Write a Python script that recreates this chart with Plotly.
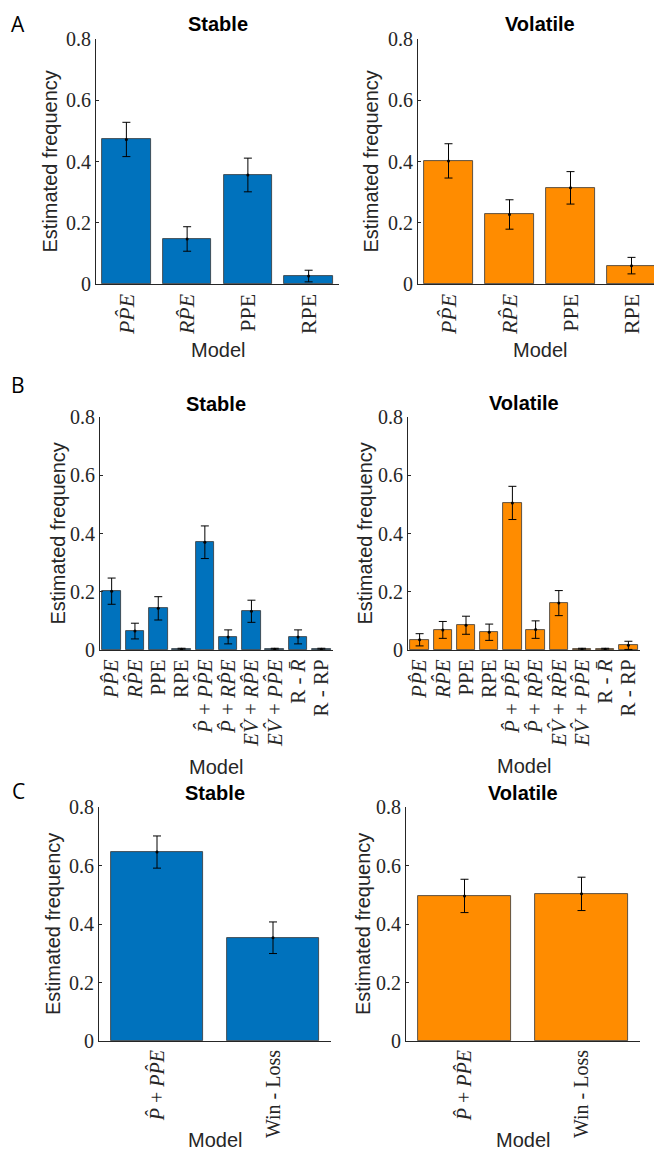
import plotly.graph_objects as go

# page is offset by the 8px body margin; pixel positions below are page pixels
OFF = 8
PW, PH = 662, 1152
W, H = PW - OFF, PH - OFF
BLUE = "#0072BD"
ORANGE = "#FF8C00"
AX = "#262626"
SERIF = "Liberation Serif, Times New Roman, serif"
SANS = "Liberation Sans, Arial, Helvetica, sans-serif"

# ---------------- data ----------------
labels_A = ["<i>PP\u0302E</i>", "<i>RP\u0302E</i>", "PPE", "RPE"]
stable_A = [0.472, 0.147, 0.356, 0.026]
stable_A_err = [0.056, 0.040, 0.055, 0.019]
volatile_A = [0.402, 0.227, 0.314, 0.060]
volatile_A_err = [0.056, 0.048, 0.053, 0.027]

labels_B = ["<i>PP\u0302E</i>", "<i>RP\u0302E</i>", "PPE", "RPE",
            "<i>P\u0302</i> + <i>PP\u0302E</i>", "<i>P\u0302</i> + <i>RP\u0302E</i>",
            "<i>EV\u0302</i> + <i>RP\u0302E</i>", "<i>EV\u0302</i> + <i>PP\u0302E</i>",
            "R - <i>R\u0304</i>", "R - RP"]
stable_B = [0.202, 0.065, 0.143, 0.003, 0.370, 0.045, 0.133, 0.003, 0.045, 0.003]
stable_B_err = [0.045, 0.027, 0.040, 0.003, 0.056, 0.024, 0.038, 0.003, 0.024, 0.003]
volatile_B = [0.035, 0.069, 0.085, 0.061, 0.505, 0.070, 0.161, 0.003, 0.003, 0.016]
volatile_B_err = [0.021, 0.029, 0.031, 0.028, 0.057, 0.030, 0.043, 0.003, 0.003, 0.014]

labels_C = ["<i>P\u0302</i> + <i>PP\u0302E</i>", "Win - Loss"]
stable_C = [0.646, 0.353]
stable_C_err = [0.055, 0.054]
volatile_C = [0.496, 0.503]
volatile_C_err = [0.057, 0.057]

y_ticks = [0, 0.2, 0.4, 0.6, 0.8]
y_ticktext = ["0", "0.2", "0.4", "0.6", "0.8"]


def px(x):
    return (x - OFF) / W


def py(y):
    return 1 - (y - OFF) / H


# panel pixel boxes: (left, right, top, bottom)
panels = [
    dict(labels=labels_A, vals=stable_A, err=stable_A_err, color=BLUE, box=(96, 339, 39, 284), tfs=22, title="Stable",
         ylab_x=49, model_y=350, title_y=24),
    dict(labels=labels_A, vals=volatile_A, err=volatile_A_err, color=ORANGE, box=(418, 662, 39, 284), tfs=22, title="Volatile",
         ylab_x=370, model_y=350, title_y=24),
    dict(labels=labels_B, vals=stable_B, err=stable_B_err, color=BLUE, box=(100, 333, 417, 650), tfs=21, title="Stable",
         ylab_x=57, model_y=767, title_y=404),
    dict(labels=labels_B, vals=volatile_B, err=volatile_B_err, color=ORANGE, box=(408, 640, 417, 650), tfs=21, title="Volatile",
         ylab_x=364, model_y=766, title_y=403),
    dict(labels=labels_C, vals=stable_C, err=stable_C_err, color=BLUE, box=(99, 331, 807, 1041), tfs=20, title="Stable",
         ylab_x=53, model_y=1140, title_y=793),
    dict(labels=labels_C, vals=volatile_C, err=volatile_C_err, color=ORANGE, box=(406, 640, 807, 1041), tfs=20, title="Volatile",
         ylab_x=363, model_y=1140, title_y=793),
]

fig = go.Figure()
layout = {}
annotations = []

for i, p in enumerate(panels, start=1):
    xa = "x" if i == 1 else f"x{i}"
    ya = "y" if i == 1 else f"y{i}"
    l, r, t, b = p["box"]
    fig.add_trace(go.Bar(
        x=p["labels"], y=p["vals"], width=0.8,
        marker=dict(color=p["color"], line=dict(color="#333333", width=0.8)),
        xaxis=xa, yaxis=ya, showlegend=False, hoverinfo="skip"))
    fig.add_trace(go.Scatter(
        x=p["labels"], y=p["vals"], mode="markers",
        marker=dict(color="black", size=3),
        error_y=dict(type="data", array=p["err"], color="black", thickness=1, width=4),
        xaxis=xa, yaxis=ya, showlegend=False, hoverinfo="skip"))
    n = len(p["labels"])
    layout["xaxis" if i == 1 else f"xaxis{i}"] = dict(
        domain=[max(px(l), 0), min(px(r), 1)], anchor=ya, type="category", range=[-0.5, n - 0.5],
        tickmode="linear", tick0=0, dtick=1,
        showline=True, linecolor=AX, linewidth=1, ticks="", tickangle=-90,
        tickfont=dict(family=SERIF, size=p["tfs"], color=AX),
        showgrid=False, zeroline=False, fixedrange=True, automargin=False)
    layout["yaxis" if i == 1 else f"yaxis{i}"] = dict(
        domain=[py(b), py(t)], anchor=xa, range=[0, 0.8],
        tickvals=y_ticks, ticktext=y_ticktext,
        showline=True, linecolor=AX, linewidth=1, ticks="inside", ticklen=3, tickcolor=AX,
        tickfont=dict(family=SERIF, size=20, color=AX),
        showgrid=False, zeroline=False, fixedrange=True, automargin=False)
    cx = (l + r) / 2
    annotations.append(dict(text="<b>" + p["title"] + "</b>", x=px(cx), y=py(p["title_y"]),
                            xref="paper", yref="paper", xanchor="center", yanchor="middle", showarrow=False,
                            font=dict(family=SANS, size=20, color="black")))
    annotations.append(dict(text="Model", x=px(cx), y=py(p["model_y"]),
                            xref="paper", yref="paper", xanchor="center", yanchor="middle", showarrow=False,
                            font=dict(family=SANS, size=20, color=AX)))
    annotations.append(dict(text="Estimated frequency", x=px(p["ylab_x"]), y=py((t + b) / 2),
                            xref="paper", yref="paper", xanchor="center", yanchor="middle", showarrow=False,
                            textangle=-90,
                            font=dict(family=SANS, size=20, color=AX)))

annotations.append(dict(text="A", x=px(18), y=1, xref="paper", yref="paper",
                        xanchor="center", yanchor="top", showarrow=False,
                        font=dict(family="Open Sans", size=21, color="black")))
for letter, ly in [("B", 385), ("C", 791)]:
    annotations.append(dict(text=letter, x=px(18), y=py(ly), xref="paper", yref="paper",
                            xanchor="center", yanchor="middle", showarrow=False,
                            font=dict(family="Open Sans", size=21, color="black")))

fig.update_layout(
    width=W, height=H, margin=dict(l=0, r=0, t=0, b=0, autoexpand=False),
    paper_bgcolor="white", plot_bgcolor="white",
    annotations=annotations, bargap=0, **layout)

fig.write_html("out.html", config={"displayModeBar": False})
